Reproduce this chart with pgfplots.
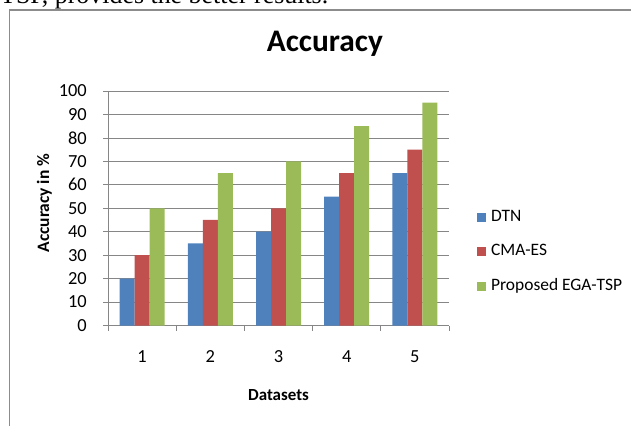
\documentclass[border=0pt]{standalone}
\usepackage{fontspec}
\setmainfont{Carlito}
\newfontfamily\seriffont{Liberation Serif}
\usepackage{pgfplots}
\pgfplotsset{compat=1.18}
\definecolor{cblue}{HTML}{4F81BD}
\definecolor{cred}{HTML}{C0504D}
\definecolor{cgreen}{HTML}{9BBB59}
\definecolor{gridc}{HTML}{868686}
\definecolor{framec}{HTML}{8C8C8C}
\pgfplotsset{sq/.style={legend image code/.code={\fill[##1] (0bp,-4.5bp) rectangle (9bp,4.5bp); \path (14bp,0bp);}}}
\begin{document}
\begin{tikzpicture}[x=1bp,y=1bp]
\useasboundingbox (0,0) rectangle (631,425);
\node[anchor=base west, inner sep=0pt, font=\seriffont\fontsize{26}{30}\selectfont] at (0,421) {TSP, provides the better results.};
\draw[framec, line width=1.3bp] (9.5,-5) -- (9.5,415) -- (640,415);
\begin{axis}[
  at={(108bp,99.5bp)}, anchor=south west,
  scale only axis, width=341bp, height=234.5bp,
  xmin=0.5, xmax=5.5, ymin=0, ymax=100,
  ybar=0pt, bar width=15bp,
  axis x line*=bottom, axis y line*=left,
  axis line style={gridc, line width=0.8bp},
  ytick={0,10,...,100},
  ymajorgrids, grid style={gridc, line width=0.8bp},
  xtick={0.5,1.5,2.5,3.5,4.5,5.5}, xticklabels={},
  extra x ticks={1,2,3,4,5}, extra x tick labels={1,2,3,4,5},
  extra x tick style={major tick length=0pt, xticklabel style={anchor=base, yshift=-37bp}},
  tick align=outside, major tick length=5bp,
  tick style={gridc, line width=0.8bp},
  tick label style={font=\fontsize{18.5}{22}\selectfont},
  /pgf/number format/assume math mode=true,
  yticklabel style={anchor=east, inner sep=0pt, xshift=-16bp},
  title={Accuracy},
  title style={at={(axis description cs:0.636,1.145)}, anchor=base, font=\bfseries\fontsize{31.5}{36}\selectfont},
  xlabel={Datasets},
  xlabel style={at={(axis description cs:0.5,-0.32)}, anchor=base, font=\bfseries\fontsize{17}{20}\selectfont},
  ylabel={Accuracy in \%},
  ylabel style={at={(axis description cs:-0.173,0.522)}, anchor=base, font=\bfseries\fontsize{17.5}{20}\selectfont},
  legend style={at={(axis description cs:1.082,0.5)}, anchor=north west, draw=none, fill=none, inner sep=0pt, row sep=17bp,
    font=\fontsize{17.5}{21}\selectfont, nodes={inner sep=0pt, text height=13bp, text depth=4.5bp}},
  legend cell align=left,
]
\addplot[fill=cblue, draw=none, sq] coordinates {(1,20) (2,35) (3,40) (4,55) (5,65)};
\addplot[fill=cred, draw=none, sq] coordinates {(1,30) (2,45) (3,50) (4,65) (5,75)};
\addplot[fill=cgreen, draw=none, sq] coordinates {(1,50) (2,65) (3,70) (4,85) (5,95)};
\legend{DTN, CMA-ES, Proposed EGA-TSP}
\end{axis}
\end{tikzpicture}
\end{document}
